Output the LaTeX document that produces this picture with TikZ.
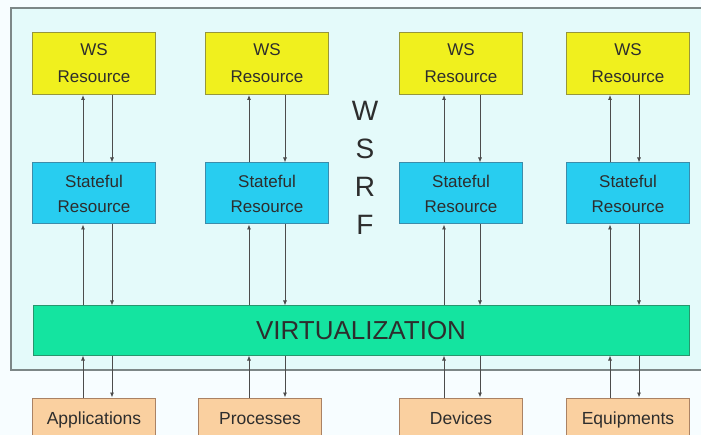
\documentclass[tikz,border=0pt]{standalone}
\usepackage{fontspec}
\setmainfont{Liberation Sans}
\usepackage{tikz}
\usetikzlibrary{arrows.meta}

\definecolor{panelfill}{RGB}{228,250,250}
\definecolor{panelline}{RGB}{125,135,135}
\definecolor{wsfill}{RGB}{240,240,30}
\definecolor{wsline}{RGB}{150,150,60}
\definecolor{stfill}{RGB}{40,205,240}
\definecolor{stline}{RGB}{60,140,170}
\definecolor{virtfill}{RGB}{20,228,160}
\definecolor{virtline}{RGB}{40,150,110}
\definecolor{srcfill}{RGB}{250,208,160}
\definecolor{srcline}{RGB}{170,130,100}
\definecolor{txt}{RGB}{45,45,45}

\begin{document}
\begin{tikzpicture}[x=1pt,y=-1pt,
    box/.style={draw,line width=1pt,inner sep=0pt,align=center,text=txt,
        font=\fontsize{17}{25}\selectfont},
    wsbox/.style={box,fill=wsfill,draw=wsline,minimum width=123pt,minimum height=62pt,
        font=\fontsize{17}{27}\selectfont},
    stbox/.style={box,fill=stfill,draw=stline,minimum width=123pt,minimum height=61pt},
    srcbox/.style={box,fill=srcfill,draw=srcline,minimum width=123pt,minimum height=44pt,
        text height=13pt,text depth=4pt,font=\fontsize{17.5}{20}\selectfont},
    link/.style={draw=black!70,line width=0.8pt,-{Latex[length=5pt,width=4pt]}}]
    \useasboundingbox (0,0) rectangle (701,435);
    \clip (0,0) rectangle (701,435);
    \fill[white!97!cyan] (0,0) rectangle (701,435);
    % WSRF panel
    \draw[panelline,fill=panelfill,line width=1.5pt] (11,8) rectangle (712,370);
    \node[text=txt,font=\fontsize{28}{38}\selectfont,align=center] (wsrf) at (365,168) {W\\S\\R\\F};
    % top row
    \node[wsbox] (ws1) at (94,63.5) {WS\\Resource};
    \node[wsbox] (ws2) at (267,63.5) {WS\\Resource};
    \node[wsbox] (ws3) at (461,63.5) {WS\\Resource};
    \node[wsbox] (ws4) at (628,63.5) {WS\\Resource};
    % stateful row
    \node[stbox] (st1) at (94,193.5) {Stateful\\Resource};
    \node[stbox] (st2) at (267,193.5) {Stateful\\Resource};
    \node[stbox] (st3) at (461,193.5) {Stateful\\Resource};
    \node[stbox] (st4) at (628,193.5) {Stateful\\Resource};
    % virtualization layer
    \node[box,fill=virtfill,draw=virtline,minimum width=656pt,minimum height=49pt,
        font=\fontsize{26}{30}\selectfont] (virt) at (361,330.5) {VIRTUALIZATION};
    % sources
    \node[srcbox] (app) at (94,420) {Applications};
    \node[srcbox] (proc) at (260,420) {Processes};
    \node[srcbox] (dev) at (461,420) {Devices};
    \node[srcbox] (equip) at (628,420) {Equipments};
    % stateful <-> ws
    \draw[link] ([xshift=-11pt]st1.north) -- ([xshift=-11pt]ws1.south);
    \draw[link] ([xshift=18pt]ws1.south) -- ([xshift=18pt]st1.north);
    \draw[link] ([xshift=-18pt]st2.north) -- ([xshift=-18pt]ws2.south);
    \draw[link] ([xshift=18pt]ws2.south) -- ([xshift=18pt]st2.north);
    \draw[link] ([xshift=-17pt]st3.north) -- ([xshift=-17pt]ws3.south);
    \draw[link] ([xshift=19pt]ws3.south) -- ([xshift=19pt]st3.north);
    \draw[link] ([xshift=-18pt]st4.north) -- ([xshift=-18pt]ws4.south);
    \draw[link] ([xshift=11pt]ws4.south) -- ([xshift=11pt]st4.north);
    % virtualization <-> stateful
    \draw[link] ([xshift=-11pt]st1.south |- virt.north) -- ([xshift=-11pt]st1.south);
    \draw[link] ([xshift=18pt]st1.south) -- ([xshift=18pt]st1.south |- virt.north);
    \draw[link] ([xshift=-18pt]st2.south |- virt.north) -- ([xshift=-18pt]st2.south);
    \draw[link] ([xshift=18pt]st2.south) -- ([xshift=18pt]st2.south |- virt.north);
    \draw[link] ([xshift=-17pt]st3.south |- virt.north) -- ([xshift=-17pt]st3.south);
    \draw[link] ([xshift=19pt]st3.south) -- ([xshift=19pt]st3.south |- virt.north);
    \draw[link] ([xshift=-18pt]st4.south |- virt.north) -- ([xshift=-18pt]st4.south);
    \draw[link] ([xshift=11pt]st4.south) -- ([xshift=11pt]st4.south |- virt.north);
    % sources <-> virtualization
    \draw[link] ([xshift=-11pt]app.north) -- ([xshift=-11pt]app.north |- virt.south);
    \draw[link] ([xshift=18pt]app.north |- virt.south) -- ([xshift=18pt]app.north);
    \draw[link] ([xshift=-11pt]proc.north) -- ([xshift=-11pt]proc.north |- virt.south);
    \draw[link] ([xshift=25pt]proc.north |- virt.south) -- ([xshift=25pt]proc.north);
    \draw[link] ([xshift=-17pt]dev.north) -- ([xshift=-17pt]dev.north |- virt.south);
    \draw[link] ([xshift=19pt]dev.north |- virt.south) -- ([xshift=19pt]dev.north);
    \draw[link] ([xshift=-18pt]equip.north) -- ([xshift=-18pt]equip.north |- virt.south);
    \draw[link] ([xshift=11pt]equip.north |- virt.south) -- ([xshift=11pt]equip.north);
\end{tikzpicture}
\end{document}
